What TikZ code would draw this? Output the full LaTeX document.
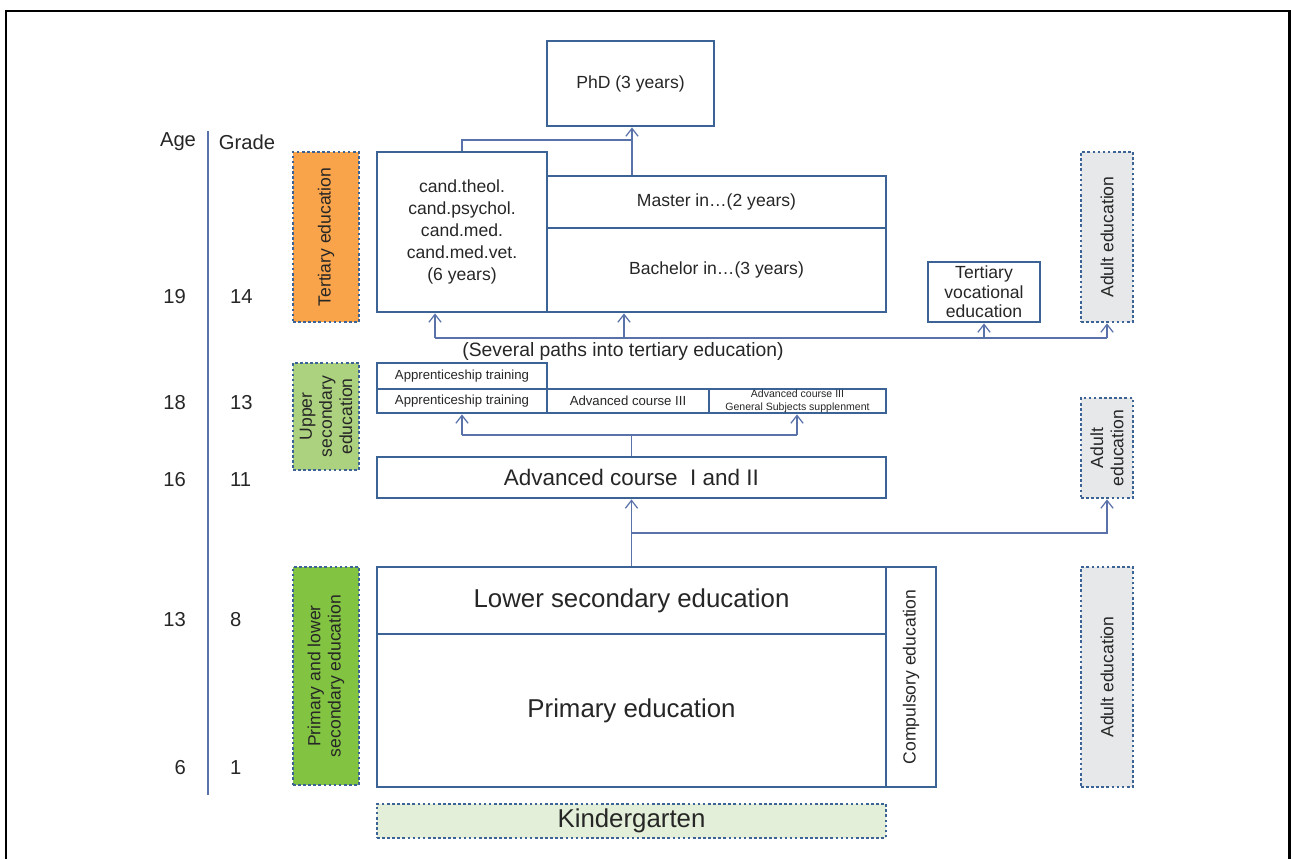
\documentclass[tikz,border=0pt]{standalone}
\usepackage{fontspec}
\setmainfont{Liberation Sans}
\usetikzlibrary{positioning}
\usetikzlibrary{arrows.meta}
\usetikzlibrary{fit}

\definecolor{boxblue}{HTML}{3B6396}
\definecolor{linkblue}{HTML}{5A72AA}
\definecolor{txtgray}{HTML}{262626}
\definecolor{tertorange}{HTML}{F9A44A}
\definecolor{uppergreen}{HTML}{ADD27F}
\definecolor{primgreen}{HTML}{82C341}
\definecolor{adultgray}{HTML}{E7E8EA}
\definecolor{kindergreen}{HTML}{E3EFD8}

\tikzset{
  box/.style={draw=boxblue, line width=1.6pt, inner sep=0pt},
  dotbox/.style={draw=boxblue, line width=1.6pt, dash pattern=on 1.5pt off 1.4pt, inner sep=0pt},
  boxtxt/.style={align=center, text=txtgray},
  link/.style={draw=linkblue, line width=0.7pt},
  arr/.style={link, -{Straight Barb[length=4.5pt,width=7pt]}},
  agelbl/.style={font=\fontsize{11.5}{13}\selectfont, text=txtgray},
  sidelbl/.style={rotate=90, align=center, text=txtgray, font=\fontsize{10}{11.5}\selectfont},
}

\begin{document}
\begin{tikzpicture}[x=0.02cm, y=-0.02cm]
	\useasboundingbox (0,0) rectangle (1291,859);
	% Frame
	\draw[line width=1.7pt] (6,859) -- (6,11) -- (1289,11) -- (1289,859);

	% Age and grade axis
	\draw[linkblue, line width=0.6pt] (208,131) -- (208,795);
	\node[agelbl] (agehead) at (178,142) {Age};
	\node[agelbl] (gradehead) at (247,142) {Grade};
	\foreach \age/\grade/\yy in {19/14/297, 18/13/403, 16/11/480, 13/8/620, 6/1/768} {
		\node[agelbl, anchor=east] (age\age) at (192,\yy) {\age};
		\node[agelbl, anchor=west] (grade\grade) at (224,\yy) {\grade};
	}

	% Levels on the left
	\node[dotbox, fill=tertorange, fit={(293,152) (359,322)},
		label={[sidelbl]center:Tertiary education}] (tert) {};
	\node[dotbox, fill=uppergreen, fit={(293,363) (359,470)},
		label={[sidelbl]center:Upper\\secondary\\education}] (upper) {};
	\node[dotbox, fill=primgreen, fit={(293,567) (359,785)},
		label={[sidelbl]center:Primary and lower\\secondary education}] (primlow) {};

	% Tertiary education
	\node[box, fit={(547,41) (714,126)},
		label={[boxtxt, font=\fontsize{10}{12}\selectfont]center:PhD (3 years)}] (phd) {};
	\node[box, fit={(377,152) (547,312)},
		label={[boxtxt, font=\fontsize{10}{12.5}\selectfont]center:cand.theol.\\cand.psychol.\\cand.med.\\cand.med.vet.\\(6 years)}] (cand) {};
	\node[box, fit={(547,176) (886,228)},
		label={[boxtxt, font=\fontsize{10}{12}\selectfont]center:Master in…(2 years)}] (master) {};
	\node[box, fit={(547,228) (886,312)},
		label={[boxtxt, font=\fontsize{10}{12}\selectfont]center:Bachelor in…(3 years)}] (bach) {};
	\node[box, fit={(928,262) (1040,322)},
		label={[boxtxt, font=\fontsize{10}{11}\selectfont]center:Tertiary\\vocational\\education}] (tvoc) {};

	% Upper secondary education
	\node[box, fit={(377,363) (547,389)},
		label={[boxtxt, font=\fontsize{7.5}{9}\selectfont]center:Apprenticeship training}] (appA) {};
	\node[box, fit={(377,389) (547,413)},
		label={[boxtxt, font=\fontsize{7.5}{9}\selectfont]center:Apprenticeship training}] (appB) {};
	\node[box, fit={(547,389) (709,413)},
		label={[boxtxt, font=\fontsize{7.5}{9}\selectfont]center:Advanced course III}] (adv3) {};
	\node[box, fit={(709,389) (886,413)},
		label={[boxtxt, font=\fontsize{6}{7.5}\selectfont]center:Advanced course III\\General Subjects supplenment}] (adv3gs) {};
	\node[box, fit={(377,457) (886,498)},
		label={[boxtxt, font=\fontsize{12.8}{15}\selectfont]center:Advanced course\ \ I and II}] (adv12) {};

	% Compulsory education
	\node[box, fit={(377,567) (886,634)},
		label={[boxtxt, font=\fontsize{14.7}{17}\selectfont]center:Lower secondary education}] (lowsec) {};
	\node[box, fit={(377,634) (886,787)},
		label={[boxtxt, font=\fontsize{14.7}{17}\selectfont]center:Primary education}] (prim) {};
	\node[box, fit={(886,567) (936,787)},
		label={[sidelbl]center:Compulsory education}] (comp) {};
	\node[dotbox, fill=kindergreen, fit={(377,804) (886,838)},
		label={[boxtxt, font=\fontsize{14.7}{17}\selectfont]center:Kindergarten}] (kinder) {};

	% Adult education on the right
	\node[dotbox, fill=adultgray, fit={(1081,152) (1133,322)},
		label={[sidelbl]center:Adult education}] (adultA) {};
	\node[dotbox, fill=adultgray, fit={(1081,398) (1133,498)},
		label={[sidelbl]center:Adult\\education}] (adultB) {};
	\node[dotbox, fill=adultgray, fit={(1081,567) (1133,787)},
		label={[sidelbl]center:Adult education}] (adultC) {};

	% Paths up to the PhD
	\coordinate (phdjoin) at (632,140);
	\draw[link] (cand.north) |- (phdjoin);
	\draw[arr] (master.north -| phdjoin) -- (phdjoin |- phd.south);

	% Paths into tertiary education
	\coordinate (pathsL) at (435,338);
	\coordinate (pathsB) at (624,338);
	\coordinate (pathsT) at (984,338);
	\coordinate (pathsR) at (1107,338);
	\draw[link] (pathsL) -- (pathsR);
	\draw[arr] (pathsL) -- (pathsL |- cand.south);
	\draw[arr] (pathsB) -- (pathsB |- bach.south);
	\draw[arr] (pathsT) -- (tvoc.south);
	\draw[arr] (pathsR) -- (adultA.south);
	\node[text=txtgray, font=\fontsize{11}{13}\selectfont] (pathslbl) at (623,351) {(Several paths into tertiary education)};

	% Paths into the third year
	\coordinate (upL) at (462,435);
	\coordinate (upR) at (797,435);
	\draw[link] (adv12.north) -- (adv12.north |- upL);
	\draw[link] (upL) -- (upR);
	\draw[arr] (upL) -- (appB.south);
	\draw[arr] (upR) -- (upR |- adv3gs.south);

	% Paths out of compulsory education
	\coordinate (adultjoin) at (632,533);
	\draw[arr] (lowsec.north) -- (adv12.south);
	\draw[arr] (adultjoin) -| (adultB.south);
\end{tikzpicture}
\end{document}
